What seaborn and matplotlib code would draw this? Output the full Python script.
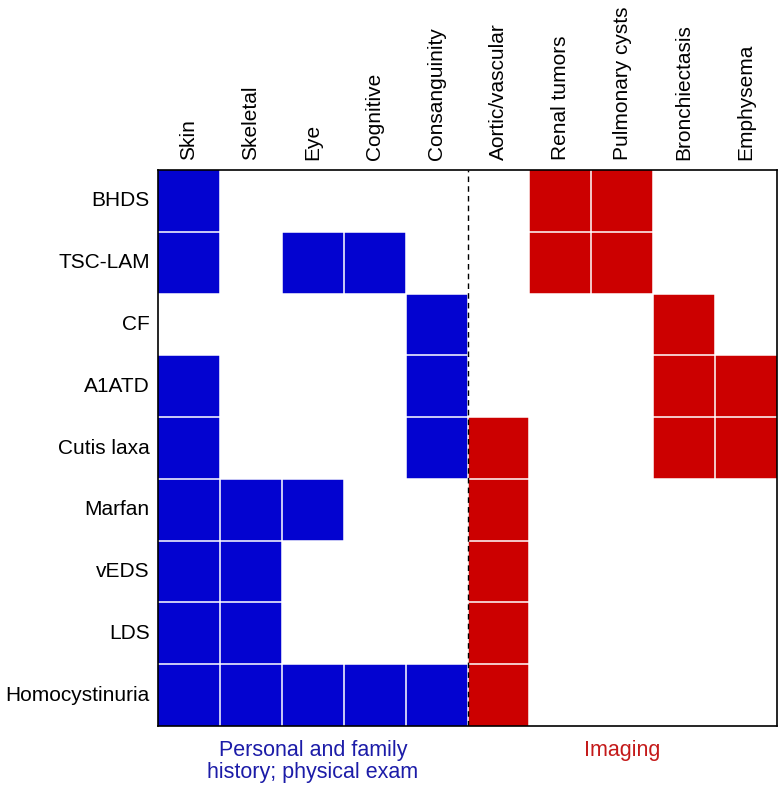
import numpy as np
import pandas as pd
import matplotlib.pyplot as plt
import seaborn as sns
from matplotlib.colors import ListedColormap

sns.set_style("white")
plt.rcParams['font.family'] = ['Liberation Sans', 'DejaVu Sans']
plt.rcParams['text.color'] = 'black'
plt.rcParams['xtick.color'] = 'black'
plt.rcParams['ytick.color'] = 'black'

# Conditions (rows) and features (columns)
diseases = ["BHDS", "TSC-LAM", "CF", "A1ATD", "Cutis laxa", "Marfan",
            "vEDS", "LDS", "Homocystinuria"]
features = ["Skin", "Skeletal", "Eye", "Cognitive", "Consanguinity",
            "Aortic/vascular", "Renal tumors", "Pulmonary cysts",
            "Bronchiectasis", "Emphysema"]
# 1 = history / exam feature, 2 = imaging feature
feature_group = [1, 1, 1, 1, 1, 2, 2, 2, 2, 2]
group_names = ["Personal and family\nhistory; physical exam", "Imaging"]

present = [
    [1, 0, 0, 0, 0, 0, 1, 1, 0, 0],  # BHDS
    [1, 0, 1, 1, 0, 0, 1, 1, 0, 0],  # TSC-LAM
    [0, 0, 0, 0, 1, 0, 0, 0, 1, 0],  # CF
    [1, 0, 0, 0, 1, 0, 0, 0, 1, 1],  # A1ATD
    [1, 0, 0, 0, 1, 1, 0, 0, 1, 1],  # Cutis laxa
    [1, 1, 1, 0, 0, 1, 0, 0, 0, 0],  # Marfan
    [1, 1, 0, 0, 0, 1, 0, 0, 0, 0],  # vEDS
    [1, 1, 0, 0, 0, 1, 0, 0, 0, 0],  # LDS
    [1, 1, 1, 1, 1, 1, 0, 0, 0, 0],  # Homocystinuria
]

BLUE = "#0303d0"
RED = "#cc0000"
text_colors = ["#1c1ca8", "#c41a1a"]

df = pd.DataFrame(np.array(present) * np.array(feature_group),
                  index=diseases, columns=features)

fig = plt.figure(figsize=(7.78, 7.86), dpi=100)
ax = fig.add_axes([0.2031, 0.0763, 0.7956, 0.7074])

sns.heatmap(df, cmap=ListedColormap(["white", BLUE, RED]), vmin=-0.5,
            vmax=2.5, cbar=False, ax=ax)

# thin white grid between cells (interior only)
nr, nc = df.shape
ax.hlines(np.arange(1, nr), 0, nc, color="white", linewidth=1.1)
ax.vlines(np.arange(1, nc), 0, nr, color="white", linewidth=1.1)

ax.xaxis.tick_top()
ax.set_xticklabels(features, rotation=90, fontsize=15)
ax.set_yticklabels(diseases, rotation=0, fontsize=15)
ax.tick_params(axis="x", length=0, pad=7)
ax.tick_params(axis="y", length=0, pad=6)
ax.set_xlabel("")
ax.set_ylabel("")

for s in ax.spines.values():
    s.set_visible(True)
    s.set_color("black")
    s.set_linewidth(1.2)

# divider between the two feature groups
ax.axvline(5, color="black", linestyle=(0, (4, 3)), linewidth=1)

# group captions under the grid
trans = ax.get_xaxis_transform()
for g, name in enumerate(group_names):
    cols = [i for i, v in enumerate(feature_group) if v == g + 1]
    xc = (min(cols) + max(cols) + 1) / 2
    ax.text(xc, -0.026, name, transform=trans, ha="center", va="top",
            fontsize=15.5, color=text_colors[g], linespacing=1.05)

plt.savefig("out.png", dpi=100)
